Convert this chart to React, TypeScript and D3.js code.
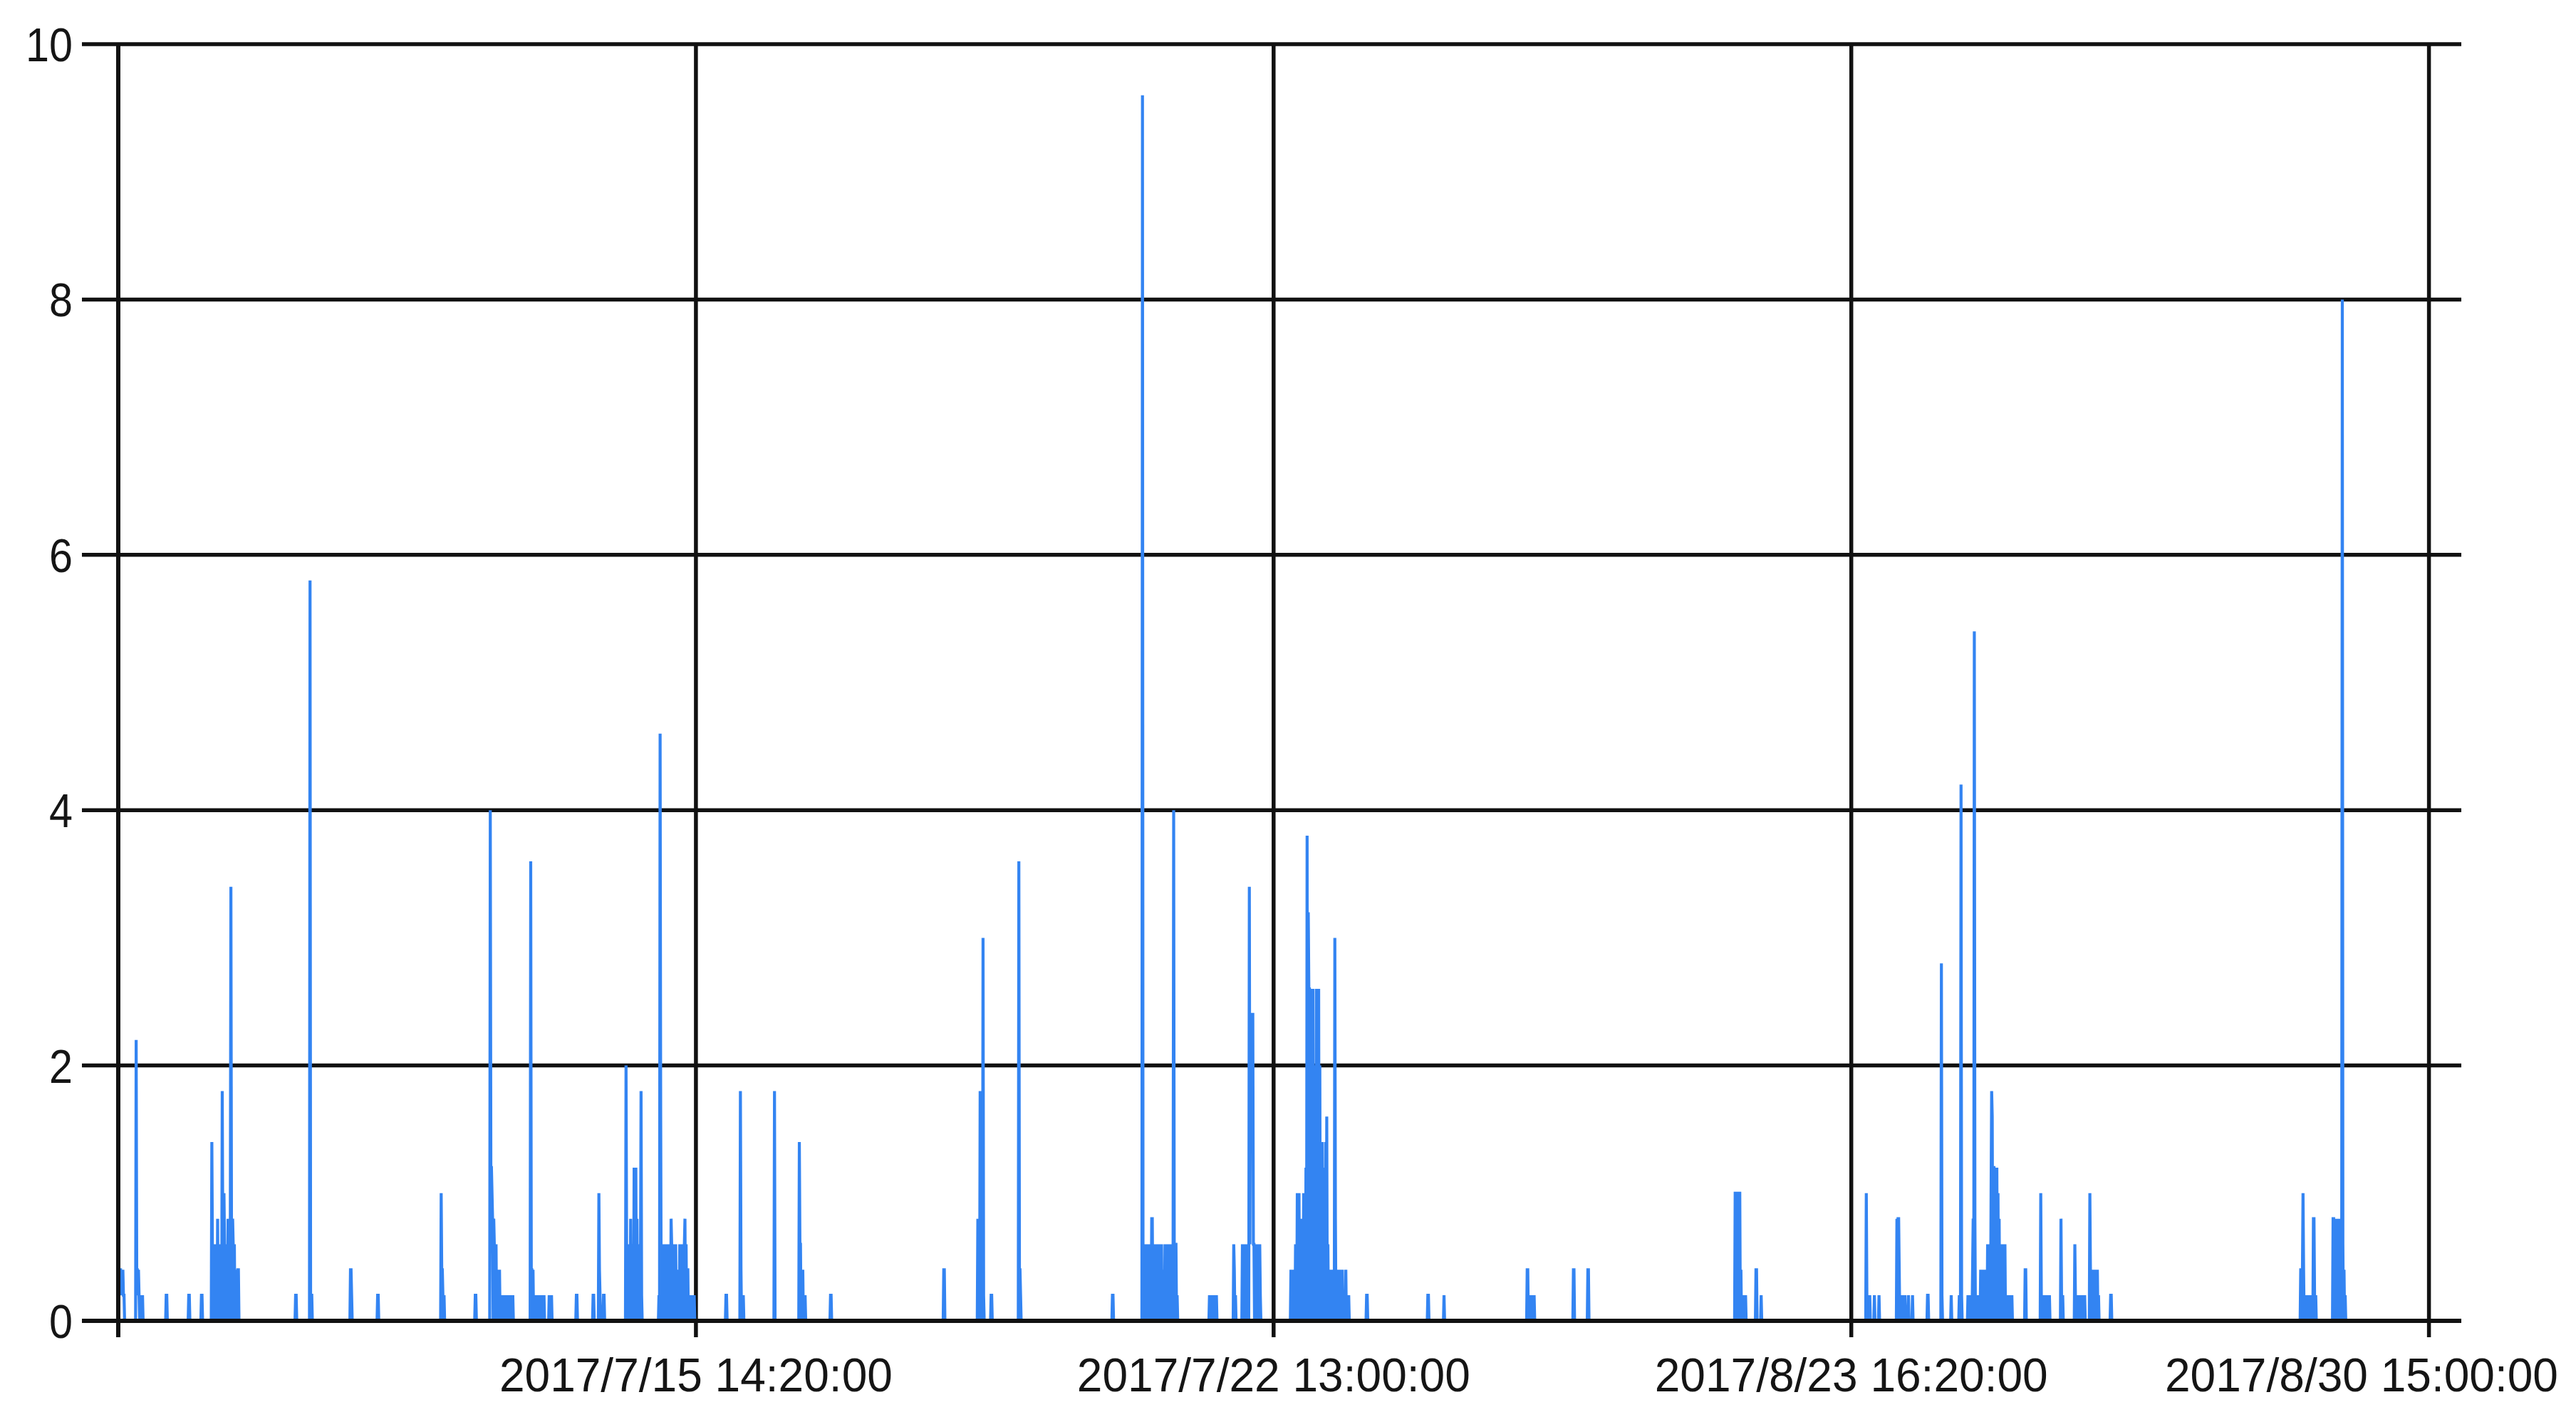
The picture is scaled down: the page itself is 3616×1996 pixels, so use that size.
import React from "react";
import * as d3 from "d3";

const W = 3616;
const H = 1996;

// Number of 10-minute readings on the indexed x axis
const pointCount = 4056;

const yTicks = [0, 2, 4, 6, 8, 10];
const xGridIndex = [0, 1000, 2000, 3000, 4000];
const xTickLabels = ["", "2017/7/15 14:20:00", "2017/7/22 13:00:00", "2017/8/23 16:20:00", "2017/8/30 15:00:00"];

// Non-zero readings [point index, value]; all other readings are 0
const readings1: [number, number][] = [
  [0, 0.4], [1, 0.4], [2, 0.2], [3, 0.4], [4, 0.4], [5, 0.2], [6, 0.4], [7, 0.2], [8, 0.4], [9, 0.2], [10, 0.2],
  [31, 2.2], [32, 0.4], [33, 0.4], [34, 0.2], [35, 0.4], [36, 0.2], [38, 0.2], [40, 0.2], [42, 0.2],
  [83, 0.2], [84, 0.2], [122, 0.2], [123, 0.2], [144, 0.2], [145, 0.2],
  [162, 1.4], [163, 0.6], [165, 0.6], [167, 0.4], [168, 0.6], [170, 0.6], [172, 0.8], [174, 0.6], [176, 0.4], [178, 0.6],
  [180, 1.8], [181, 0.6], [183, 1.0], [184, 0.6], [186, 0.6], [188, 0.2], [190, 0.8], [192, 0.6], [194, 0.8], [195, 3.4],
  [196, 0.8], [198, 0.8], [199, 0.6], [201, 0.6], [203, 0.4], [205, 0.2], [207, 0.4], [208, 0.4],
  [307, 0.2], [308, 0.2], [332, 5.8], [334, 0.2], [335, 0.2],
  [402, 0.4], [403, 0.4], [404, 0.2], [449, 0.2], [450, 0.2],
  [559, 1.0], [560, 0.4], [561, 0.4], [562, 0.2], [564, 0.2], [618, 0.2], [619, 0.2],
  [644, 4.0], [645, 1.2], [646, 1.2], [647, 1.0], [648, 0.8], [650, 0.8], [651, 0.6], [653, 0.4], [654, 0.6], [656, 0.4],
  [658, 0.2], [660, 0.4], [662, 0.2], [664, 0.2], [666, 0.2], [668, 0.2], [671, 0.2], [674, 0.2], [678, 0.2], [683, 0.2],
  [714, 3.6], [715, 0.4], [716, 0.4], [718, 0.4], [720, 0.2], [722, 0.2], [727, 0.2], [729, 0.2], [731, 0.2], [733, 0.2],
  [735, 0.2], [737, 0.2], [746, 0.2], [748, 0.2], [750, 0.2],
  [793, 0.2], [794, 0.2], [822, 0.2], [823, 0.2], [832, 1.0], [833, 0.4], [834, 0.2], [840, 0.2], [841, 0.2],
  [879, 2.0], [880, 0.6], [881, 0.4], [883, 0.6], [885, 0.4], [887, 0.8], [889, 0.6], [891, 0.6], [893, 1.2], [894, 0.8],
  [896, 1.2], [898, 0.8], [900, 0.6], [902, 0.6], [904, 0.4], [905, 1.8], [906, 0.2],
  [936, 0.2], [938, 4.6], [939, 1.6], [941, 0.6], [943, 0.4], [945, 0.6], [947, 0.4], [949, 0.6], [951, 0.4], [953, 0.6],
  [955, 0.6], [957, 0.8], [958, 0.6], [960, 0.4], [962, 0.6], [963, 0.4], [965, 0.6], [967, 0.4], [968, 0.2], [970, 0.4],
  [972, 0.6], [974, 0.4], [976, 0.6], [978, 0.4], [980, 0.6], [981, 0.8], [983, 0.6], [985, 0.4], [986, 0.4], [988, 0.2],
  [991, 0.2], [995, 0.2], [997, 0.2],
];

const readings2: [number, number][] = [
  [1052, 0.2], [1053, 0.2], [1077, 1.8], [1078, 0.4], [1080, 0.2], [1082, 0.2], [1136, 1.8],
  [1179, 1.4], [1180, 0.6], [1181, 0.6], [1183, 0.4], [1185, 0.4], [1187, 0.2], [1189, 0.2],
  [1233, 0.2], [1234, 0.2], [1429, 0.4], [1430, 0.4],
  [1488, 0.8], [1490, 0.8], [1492, 1.8], [1493, 0.8], [1495, 0.8], [1497, 3.0], [1498, 0.2],
  [1511, 0.2], [1512, 0.2], [1559, 3.6], [1560, 0.4], [1561, 0.4], [1562, 0.2], [1721, 0.2], [1722, 0.2],
  [1773, 9.6], [1775, 0.6], [1777, 0.4], [1779, 0.6], [1781, 0.6], [1783, 0.4], [1785, 0.6], [1787, 0.6], [1789, 0.8], [1790, 0.8],
  [1792, 0.6], [1794, 0.6], [1796, 0.6], [1798, 0.6], [1800, 0.4], [1802, 0.6], [1804, 0.6], [1806, 0.6], [1808, 0.4], [1810, 0.4],
  [1812, 0.6], [1814, 0.6], [1816, 0.4], [1818, 0.6], [1820, 0.6], [1822, 0.6], [1824, 0.4], [1826, 0.6], [1827, 4.0], [1828, 0.6],
  [1830, 0.6], [1831, 0.6], [1833, 0.2],
  [1889, 0.2], [1891, 0.2], [1893, 0.2], [1895, 0.2], [1897, 0.2], [1899, 0.2], [1901, 0.2],
  [1931, 0.6], [1932, 0.4], [1934, 0.2],
  [1946, 0.6], [1948, 0.6], [1950, 0.6], [1952, 0.4], [1954, 0.6], [1956, 0.6], [1958, 3.4], [1959, 0.6], [1960, 2.4], [1961, 2.4],
  [1962, 2.2], [1963, 2.4], [1964, 2.4], [1965, 0.6], [1966, 0.6], [1968, 0.6], [1970, 0.6], [1972, 0.6], [1974, 0.6], [1976, 0.6], [1977, 0.2],
];

const readings3: [number, number][] = [
  [2030, 0.4], [2032, 0.2], [2035, 0.4], [2038, 0.6], [2041, 1.0], [2042, 0.6], [2044, 1.0], [2046, 0.6], [2048, 0.8], [2050, 0.6],
  [2052, 1.0], [2054, 0.6], [2056, 1.2], [2058, 3.8], [2060, 3.2], [2061, 2.6], [2062, 2.6], [2064, 2.4], [2066, 2.6], [2068, 2.6],
  [2070, 2.0], [2072, 1.4], [2074, 2.6], [2076, 2.6], [2078, 2.6], [2080, 2.0], [2082, 1.4], [2084, 1.4], [2086, 1.2], [2088, 1.0],
  [2090, 1.4], [2092, 1.6], [2094, 0.6], [2096, 0.2], [2098, 0.4], [2100, 0.2], [2102, 0.4], [2104, 0.2], [2106, 3.0], [2107, 0.8],
  [2109, 0.4], [2111, 0.4], [2113, 0.2], [2115, 0.4], [2117, 0.2], [2119, 0.4], [2121, 0.2], [2123, 0.2], [2125, 0.4], [2127, 0.2], [2130, 0.2],
  [2161, 0.2], [2162, 0.2], [2267, 0.2], [2268, 0.2], [2295, 0.2],
  [2439, 0.4], [2440, 0.4], [2443, 0.2], [2445, 0.2], [2448, 0.2], [2451, 0.2],
  [2519, 0.4], [2520, 0.4], [2544, 0.4], [2545, 0.4],
  [2799, 1.0], [2800, 1.0], [2801, 1.0], [2803, 0.8], [2805, 1.0], [2806, 1.0], [2807, 1.0], [2809, 0.4], [2811, 0.2], [2813, 0.2], [2817, 0.2],
  [2835, 0.4], [2836, 0.4], [2844, 0.2],
];

const readings4: [number, number][] = [
  [3026, 1.0], [3027, 0.2], [3030, 0.2], [3032, 0.2], [3040, 0.2], [3048, 0.2],
  [3079, 0.8], [3081, 0.8], [3082, 0.8], [3083, 0.4], [3086, 0.2], [3089, 0.2], [3093, 0.2], [3099, 0.2], [3106, 0.2],
  [3132, 0.2], [3133, 0.2], [3156, 2.8], [3157, 0.2], [3173, 0.2], [3187, 0.2], [3190, 4.2], [3191, 0.2],
  [3202, 0.2], [3204, 0.2], [3206, 0.2], [3208, 0.2], [3210, 0.4], [3211, 0.8], [3213, 5.4], [3214, 0.8], [3216, 0.2], [3218, 0.2],
  [3220, 0.2], [3222, 0.2], [3224, 0.4], [3226, 0.2], [3228, 0.4], [3230, 0.2], [3232, 0.4], [3234, 0.4], [3236, 0.6], [3238, 0.4],
  [3240, 0.6], [3242, 1.0], [3243, 1.8], [3244, 1.6], [3246, 1.2], [3247, 1.2], [3249, 1.2], [3251, 1.0], [3252, 1.2], [3254, 1.0],
  [3256, 0.8], [3258, 0.6], [3260, 0.6], [3262, 0.6], [3264, 0.4], [3266, 0.6], [3268, 0.2], [3270, 0.2], [3272, 0.2], [3275, 0.2], [3278, 0.2],
  [3301, 0.4], [3302, 0.4],
  [3328, 1.0], [3329, 0.2], [3331, 0.2], [3333, 0.2], [3335, 0.2], [3337, 0.2], [3339, 0.2], [3341, 0.2], [3343, 0.2],
  [3363, 0.8], [3364, 0.2], [3366, 0.2],
  [3387, 0.6], [3388, 0.2], [3391, 0.2], [3393, 0.2], [3395, 0.2], [3397, 0.2], [3399, 0.2], [3401, 0.2], [3404, 0.2],
  [3413, 1.0], [3414, 0.4], [3416, 0.4], [3418, 0.4], [3420, 0.4], [3422, 0.4], [3424, 0.4], [3426, 0.4], [3428, 0.2],
  [3449, 0.2], [3450, 0.2],
  [3778, 0.4], [3779, 0.4], [3781, 0.4], [3782, 1.0], [3783, 0.4], [3785, 0.2], [3787, 0.2], [3789, 0.2], [3791, 0.2], [3793, 0.2],
  [3795, 0.2], [3797, 0.2], [3800, 0.8], [3801, 0.8], [3802, 0.2], [3804, 0.2],
  [3834, 0.8], [3835, 0.8], [3837, 0.6], [3839, 0.8], [3841, 0.8], [3843, 0.6], [3845, 0.8], [3847, 0.8], [3849, 0.8], [3850, 8.0],
  [3851, 0.6], [3853, 0.4], [3855, 0.2],
];

const values: number[] = new Array(pointCount).fill(0);
for (const [i, v] of [...readings1, ...readings2, ...readings3, ...readings4]) values[i] = v;

const FONT = "'Liberation Sans', Arial, sans-serif";

export default function App() {
  const left = 166;
  const right = 3455;
  const top = 62;
  const bottom = 1854;

  const x = d3.scaleLinear().domain([0, pointCount]).range([left, right]);
  const y = d3.scaleLinear().domain([0, 10]).range([bottom, top]);

  const line = d3
    .line<number>()
    .x((_, i) => x(i))
    .y((d) => y(d));

  const gridColor = "#111";
  const gridW = 5.5;

  return (
    <svg
      width={W}
      height={H}
      viewBox={`0 0 ${W} ${H}`}
      style={{ position: "absolute", left: 0, top: 0, display: "block", background: "#fff" }}
    >
      <rect x={0} y={0} width={W} height={H} fill="#fff" />
      {/* horizontal gridlines with left tick stubs */}
      {yTicks.map((t) => (
        <line key={`h${t}`} x1={115} x2={right} y1={y(t)} y2={y(t)} stroke={gridColor} strokeWidth={gridW} />
      ))}
      {/* vertical gridlines with bottom tick stubs */}
      {xGridIndex.map((t) => (
        <line key={`v${t}`} x1={x(t)} x2={x(t)} y1={top} y2={bottom + 23} stroke={gridColor} strokeWidth={gridW} />
      ))}
      {/* series */}
      <path d={line(values) || ""} fill="none" stroke="#3384F2" strokeWidth={4.2} />
      {/* x axis on top */}
      <line x1={115} x2={right} y1={bottom} y2={bottom} stroke={gridColor} strokeWidth={6} />
      <line x1={left} x2={left} y1={top} y2={bottom + 23} stroke={gridColor} strokeWidth={6} />
      {/* y labels */}
      {yTicks.map((t) => (
        <text
          key={`yl${t}`}
          x={102}
          y={y(t) + 24}
          textAnchor="end"
          fontFamily={FONT}
          fontSize={66}
          fill="#151515"
          textLength={String(t).length * 33}
          lengthAdjust="spacingAndGlyphs"
        >
          {t}
        </text>
      ))}
      {/* x labels */}
      {xGridIndex.map((t, k) => {
        const label = xTickLabels[k];
        if (!label) return null;
        const w = 552;
        const cx = x(t);
        const fits = cx + w / 2 <= W - 25;
        return (
          <text
            key={`xl${t}`}
            x={fits ? cx : W - 25}
            y={1953}
            textAnchor={fits ? "middle" : "end"}
            fontFamily={FONT}
            fontSize={66}
            fill="#151515"
            textLength={w}
            lengthAdjust="spacingAndGlyphs"
          >
            {label}
          </text>
        );
      })}
    </svg>
  );
}
